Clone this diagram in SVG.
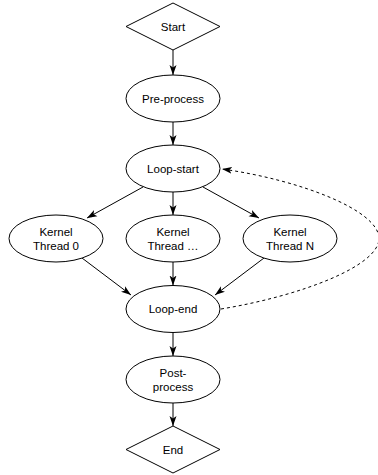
<svg xmlns="http://www.w3.org/2000/svg" width="378" height="475" viewBox="0 0 378 475">
<style>
.n{fill:#fff;stroke:#000;stroke-width:1}
.t{font-family:"Liberation Sans",Arial,sans-serif;font-size:11.5px;fill:#000;text-anchor:middle;dominant-baseline:central}
.e{fill:none;stroke:#000;stroke-width:1}
.d{stroke-dasharray:3 3}
</style>
<defs>
<marker id="a" markerUnits="userSpaceOnUse" markerWidth="10" markerHeight="8" refX="10" refY="4" orient="auto">
<path d="M0,0.5 L10,4 L0,7.5 L2.5,4 Z" fill="#000"/>
</marker>
</defs>
<rect width="378" height="475" fill="#fff"/>
<g id="edges">
<line class="e" x1="173" y1="50" x2="173" y2="75" marker-end="url(#a)"/>
<line class="e" x1="173" y1="122" x2="173" y2="145" marker-end="url(#a)"/>
<line class="e" x1="143" y1="187" x2="87" y2="218" marker-end="url(#a)"/>
<line class="e" x1="173" y1="192" x2="173" y2="215" marker-end="url(#a)"/>
<line class="e" x1="203" y1="187" x2="259" y2="218" marker-end="url(#a)"/>
<line class="e" x1="82" y1="258" x2="131" y2="295" marker-end="url(#a)"/>
<line class="e" x1="173" y1="262" x2="173" y2="285.5" marker-end="url(#a)"/>
<line class="e" x1="264" y1="258" x2="215" y2="295" marker-end="url(#a)"/>
<line class="e" x1="173" y1="332.5" x2="173" y2="356" marker-end="url(#a)"/>
<line class="e" x1="173" y1="403" x2="173" y2="426" marker-end="url(#a)"/>
<path class="e d" d="M221,309 C300,296 380,266 379,238 C378,210 300,180 222,169" marker-end="url(#a)"/>
</g>
<g id="start"><polygon class="n" points="173,3 220,26.5 173,50 126,26.5"/><text class="t" x="173" y="26.5">Start</text></g>
<g id="preprocess"><ellipse class="n" cx="173" cy="98.5" rx="47" ry="23.5"/><text class="t" x="173" y="98.5">Pre-process</text></g>
<g id="loopstart"><ellipse class="n" cx="173" cy="168.5" rx="47" ry="23.5"/><text class="t" x="173" y="168.5">Loop-start</text></g>
<g id="kernel0"><ellipse class="n" cx="56" cy="238.5" rx="47" ry="23.5"/><text class="t" x="56" y="231.5">Kernel</text><text class="t" x="56" y="245.5">Thread 0</text></g>
<g id="kernelmid"><ellipse class="n" cx="173" cy="238.5" rx="47" ry="23.5"/><text class="t" x="173" y="231.5">Kernel</text><text class="t" x="173" y="245.5">Thread …</text></g>
<g id="kernelN"><ellipse class="n" cx="290" cy="238.5" rx="47" ry="23.5"/><text class="t" x="290" y="231.5">Kernel</text><text class="t" x="290" y="245.5">Thread N</text></g>
<g id="loopend"><ellipse class="n" cx="173" cy="309" rx="47" ry="23.5"/><text class="t" x="173" y="309">Loop-end</text></g>
<g id="postprocess"><ellipse class="n" cx="173" cy="379.5" rx="47" ry="23.5"/><text class="t" x="173" y="372.5">Post-</text><text class="t" x="173" y="386.5">process</text></g>
<g id="end"><polygon class="n" points="173,426 220,449.5 173,473 126,449.5"/><text class="t" x="173" y="449.5">End</text></g>
</svg>
